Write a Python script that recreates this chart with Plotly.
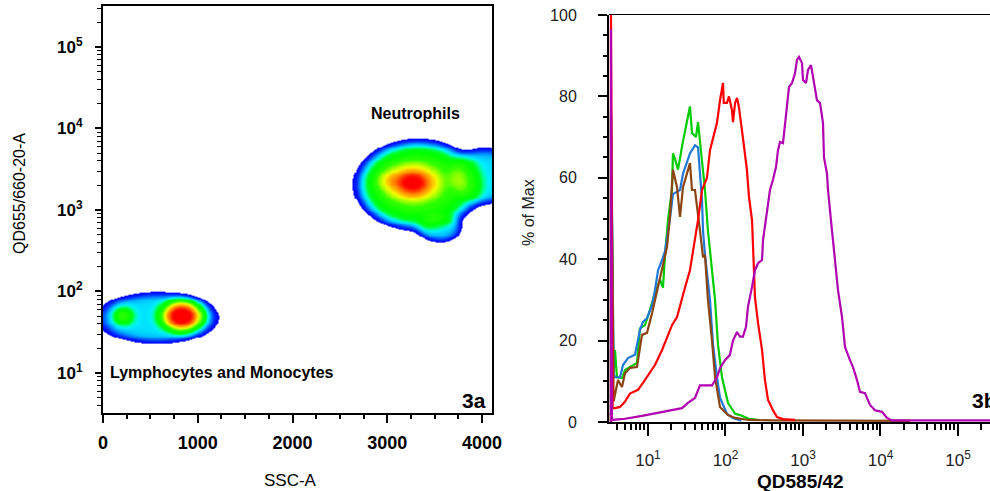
import numpy as np
import plotly.graph_objects as go

# ---------------- 3a : density populations ----------------
# 0 = Neutrophils, 1 = Lymphocytes and Monocytes
comp_pop = [0, 0, 0, 0, 0, 1, 1, 1]
comp_ssc = [3325, 3272, 4030, 3557, 2997, 570, 834, 211]
comp_ssc_sd = [549, 169, 320, 190, 106, 565, 165, 69]
comp_qd655 = [2028, 2143, 2600, 601, 2334, 47.3, 50, 50]
comp_log_sd = [0.454, 0.135, 0.30, 0.147, 0.086, 0.275, 0.14, 0.074]
comp_weight = [0.42, 0.6, 0.2, 0.18, 0.1, 0.2, 0.8, 0.25]
comp_shape = [3.0, 1.0, 3.0, 2.0, 1.0, 3.0, 1.5, 1.0]
density_threshold = 0.06

ssc_ticks = [0, 1000, 2000, 3000, 4000]
log_tick_vals = [10, 100, 1000, 10000, 100000]
log_tick_text = ["10<sup>1</sup>", "10<sup>2</sup>", "10<sup>3</sup>", "10<sup>4</sup>", "10<sup>5</sup>"]

# ---------------- 3b : histograms, QD585/42 vs % of Max ----------------
green_x = [3.33, 3.33, 3.6, 3.75, 3.98, 4.62, 5.05, 5.86, 7.21, 7.88, 9.15, 10.6, 12.3, 14.3, 15.6, 16.6,
           18.1, 20.4, 21.0, 22.0, 24.4, 28.3, 31.9, 34.8, 37.0, 41.6, 44.2, 49.8, 54.4, 59.4, 65.0,
           73.3, 80.0, 90.2, 107.7, 133, 154, 200, 279]
green_y = [0, 77, 12, 17.7, 11, 10.8, 12.8, 13.5, 14.5, 23, 23.8, 27.5, 31.7, 35, 33, 41,
           49.6, 57, 66, 65, 62, 69, 73.5, 77.5, 71, 70, 73.7, 65, 57, 47, 40,
           30, 19, 11, 4.7, 2, 1.7, 0.8, 0.5]

blue_x = [3.33, 3.33, 3.6, 3.75, 4.35, 4.76, 5.52, 6.79, 7.88, 8.62, 9.71, 11.3, 12.3, 13.5, 15.2, 16.6,
          19.2, 21.0, 25.9, 28.3, 34.8, 40.4, 44.2, 46.9, 49.8, 51.3, 54.4, 63.1, 69.0, 77.7, 84.9,
          104.5, 125, 160]
blue_y = [0, 76, 12, 11, 11, 14, 15.7, 16.5, 22.6, 24.6, 25.5, 28.7, 32.4, 37.3, 39.8, 42,
          50, 56, 57, 61, 66, 68, 67.5, 62, 54.5, 47, 41, 30, 19, 11, 6,
          2, 1, 0.3]

brown_x = [3.33, 3.33, 3.6, 3.75, 4.10, 4.62, 5.05, 5.86, 7.21, 8.37, 9.71, 11.3, 13.1, 14.3, 15.6, 17.6,
           19.2, 21.0, 23.7, 25.9, 28.3, 31.9, 34.8, 37.0, 40.4, 46.9, 51.3, 54.4, 59.4, 67.0, 73.3,
           84.9, 107.7, 133, 200, 400, 24050]
brown_y = [0, 75, 5, 7, 10.3, 8.6, 12, 13.3, 13.5, 21.4, 21.9, 26.8, 32.4, 35, 39, 43,
           50.4, 62, 57.7, 50.4, 57.7, 61, 63.6, 57, 57, 47, 40.5, 41, 30, 20, 11,
           3.7, 1.7, 1, 0.5, 0.4, 0.3]

red_x = [3.33, 3.33, 3.5, 3.75, 4.35, 5.05, 5.86, 7.43, 8.62, 9.71, 12.3, 15.2, 17.6, 20.4, 23.7, 25.9,
         30.0, 34.8, 38.1, 44.2, 49.8, 57.7, 63.1, 69.0, 77.7, 84.9, 90.2, 92.9, 95, 104.5, 111, 121,
         125, 133, 141, 149, 163, 179, 189, 201, 220, 228, 232, 240, 263, 296, 323, 354, 410, 462,
         550, 789]
red_y = [0, 100, 3.4, 3.4, 3.7, 5, 7, 7.9, 9.6, 11, 14, 17.7, 21, 23.8, 25.8, 28.7,
         33, 37.3, 42, 49.6, 57, 60, 66.8, 70, 73.5, 79, 81.6, 83.3, 78.4, 78.4, 80, 76.7,
         73.7, 78.4, 79.6, 77.4, 71.7, 66, 62, 55.3, 49.6, 42, 36.6, 30.7, 24.3, 17.7, 10.3, 5.4, 2.9, 1.2,
         0.7, 0.5]

magenta_x = [3.33, 3.33, 3.43, 5.05, 8.37, 15.2, 27.5, 32.8, 40.4, 46.9, 67.0, 77.7, 84.9, 98.6, 114, 125,
             141, 154, 168, 184, 195, 220, 240, 263, 296, 305, 314, 343, 375, 410, 449, 476, 505,
             552, 586, 622, 660, 722, 789, 837, 888, 971, 1000, 1094, 1161, 1269, 1346, 1429, 1516,
             1657, 1812, 1866, 2041, 2103, 2230, 2366, 2438, 2587, 2829, 3187, 3485, 4039, 4416,
             4977, 5438, 6310, 7322, 8495, 10450, 12130, 14000, 260000]
magenta_y = [0, 96.5, 0.5, 0.8, 1.5, 2.5, 3.4, 4.7, 5.9, 9, 9, 11, 13.2, 15.2, 16.5, 20,
             22.1, 21, 21, 23.4, 28.3, 33.2, 37.3, 39, 39.8, 44.7, 46.4, 52.8, 57, 59.5, 62.7, 66.8, 68.8,
             68.5, 73.5, 78.4, 82.3, 83.3, 85.7, 89, 89.7, 88.2, 84, 83.3, 86.5, 87.7, 84.8, 80.8, 79,
             78.4, 73.5, 65, 61, 57, 52.8, 47, 44.7, 39.8, 32.4, 25.8, 18.4, 15.2, 13.5,
             10.3, 7.4, 7.1, 4.2, 2.9, 2.5, 1, 0.4, 0.4]

hist_series = [
    ("green", green_x, green_y, "#00cc00"),
    ("blue", blue_x, blue_y, "#1f78d8"),
    ("brown", brown_x, brown_y, "#8b4513"),
    ("red", red_x, red_y, "#ff0000"),
    ("magenta", magenta_x, magenta_y, "#b000b0"),
]

# ---------------- density grid for 3a ----------------
W, H = 990, 491
gx = np.linspace(0, 4105, 380)
gly = np.linspace(0.9, 4.3, 300)
X, LY = np.meshgrid(gx, gly)
dens = [np.zeros_like(X), np.zeros_like(X)]
for p, cx, sx, cy, sy, w, sh in zip(comp_pop, comp_ssc, comp_ssc_sd, comp_qd655, comp_log_sd,
                                    comp_weight, comp_shape):
    r2 = ((X - cx) / sx) ** 2 + ((LY - np.log10(cy)) / sy) ** 2
    dens[p] += w * np.exp(-0.5 * r2 ** sh)
Z = np.maximum(dens[0] / dens[0].max(), dens[1] / dens[1].max())
Z = np.where(Z < density_threshold, np.nan, Z)

jet = [[0.0, "#0000ff"], [0.04, "#0020ff"], [0.08, "#0070ff"], [0.12, "#00c0ff"], [0.16, "#00f0ff"],
       [0.2, "#00ff90"], [0.24, "#00ff20"], [0.3, "#00ff00"], [0.42, "#30ff00"], [0.5, "#a0ff00"],
       [0.58, "#f0ff00"], [0.66, "#ffc000"], [0.76, "#ff8000"], [0.86, "#ff3000"], [0.93, "#ff0000"],
       [1.0, "#ff0000"]]

fig = go.Figure()
fig.add_trace(go.Heatmap(x=gx, y=10 ** gly, z=Z, colorscale=jet, zmin=density_threshold, zmax=1,
                         showscale=False, hoverinfo="skip", zsmooth=False, xaxis="x", yaxis="y"))

for name, xs, ys, col in hist_series:
    fig.add_trace(go.Scatter(x=xs, y=ys, mode="lines", line=dict(color=col, width=2.2),
                             name=name, showlegend=False, xaxis="x2", yaxis="y2"))

font_fam = "Liberation Sans, Arial, sans-serif"
minor_log = [m * 10 ** k for k in range(0, 6) for m in range(2, 10)]

fig.update_layout(
    width=W, height=H, margin=dict(l=0, r=0, t=0, b=0, pad=0, autoexpand=False),
    paper_bgcolor="white", plot_bgcolor="white", showlegend=False,
    font=dict(family=font_fam, color="black"),
    xaxis=dict(domain=[103 / W, 492 / W], range=[0, 4105], tickmode="array", tickvals=ssc_ticks,
               ticks="outside", ticklen=8, tickwidth=2, tickcolor="black", automargin=False,
               minor=dict(dtick=250, tick0=0, ticks="outside", ticklen=4, tickwidth=2, tickcolor="black"),
               showline=True, linewidth=2, linecolor="black", mirror=True,
               showgrid=False, zeroline=False, anchor="y",
               tickfont=dict(size=18, weight="bold", family=font_fam), ticklabelstandoff=4),
    yaxis=dict(domain=[1 - 413 / H, 1 - 6 / H], type="log", range=[0.509, 5.503],
               tickmode="array", tickvals=log_tick_vals, ticktext=log_tick_text, automargin=False,
               ticks="outside", ticklen=6, tickwidth=2, tickcolor="black",
               minor=dict(tickmode="array", tickvals=minor_log, ticks="outside", ticklen=4,
                          tickwidth=1, tickcolor="black"),
               showline=True, linewidth=2, linecolor="black", mirror=True,
               showgrid=False, zeroline=False, anchor="x",
               tickfont=dict(size=17, weight="bold", family=font_fam), ticklabelstandoff=9),
    xaxis2=dict(domain=[609 / W, 1.0], type="log", range=[0.497, 5.413], automargin=False,
                tickmode="array", tickvals=log_tick_vals, ticktext=log_tick_text,
                ticks="outside", ticklen=12, tickwidth=1.5, tickcolor="black",
                minor=dict(tickmode="array", tickvals=minor_log, ticks="outside", ticklen=6,
                           tickwidth=1.5, tickcolor="black"),
                showline=True, linewidth=2, linecolor="black",
                showgrid=False, zeroline=False, anchor="y2",
                tickfont=dict(size=17, color="#222", family=font_fam), ticklabelstandoff=10),
    yaxis2=dict(domain=[1 - 422 / H, 1 - 15 / H], range=[0, 100], tickmode="linear", dtick=20, tick0=0,
                ticks="outside", ticklen=9, tickwidth=1.5, tickcolor="black", automargin=False,
                minor=dict(dtick=5, tick0=0, ticks="outside", ticklen=4, tickwidth=1.5, tickcolor="black"),
                showline=True, linewidth=2, linecolor="black",
                showgrid=False, zeroline=False, anchor="x2",
                tickfont=dict(size=16, color="#222", family=font_fam), ticklabelstandoff=18),
)

# top frame line of 3b
fig.add_shape(type="line", xref="paper", yref="paper", x0=609 / W, x1=1.0,
              y0=1 - 14.5 / H, y1=1 - 14.5 / H, line=dict(color="black", width=1))

def ann(text, px, py, size, bold=False, xanchor="center", angle=0, color="black"):
    fig.add_annotation(text=text, xref="paper", yref="paper", x=px / W, y=1 - py / H,
                       xanchor=xanchor, yanchor="middle", showarrow=False, textangle=angle,
                       font=dict(size=size, family=font_fam, color=color,
                                 weight="bold" if bold else "normal"))

ann("Neutrophils", 415, 113, 16, bold=True)
ann("Lymphocytes and Monocytes", 108, 372, 16, bold=True, xanchor="left")
ann("3a", 488, 400, 21, bold=True, xanchor="right")
ann("SSC-A", 290, 480, 17)
ann("QD655/660-20-A", 19, 194, 16, angle=-90)
ann("% of Max", 528, 213, 16, angle=-90, color="#222")
ann("QD585/42", 800, 481, 19, bold=True)
ann("3b", 970, 400, 21, bold=True, xanchor="left")

fig.write_html("out.html", config={"displayModeBar": False},
               post_script="document.body.style.margin='0';document.body.style.overflow='hidden';")
